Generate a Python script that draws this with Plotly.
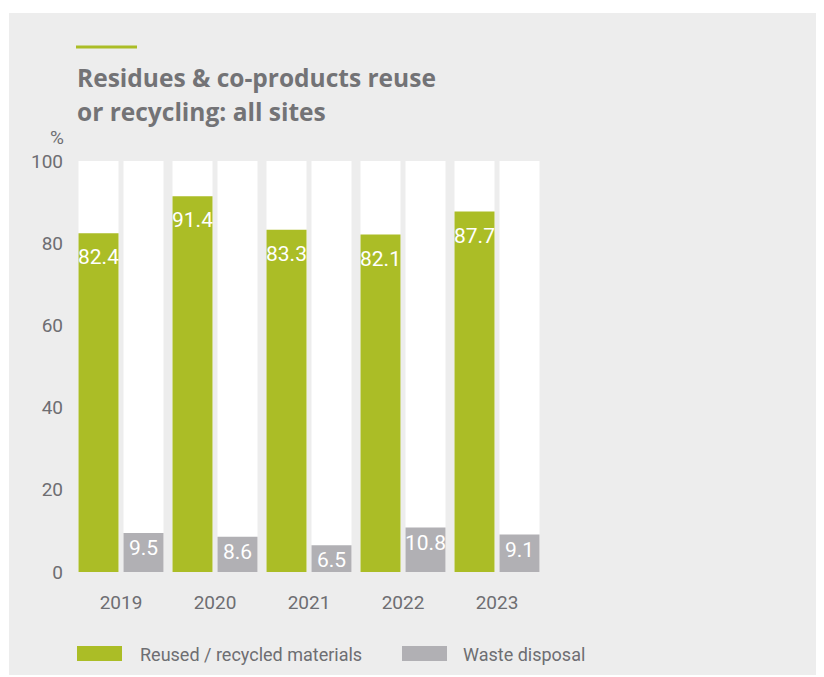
import plotly.graph_objects as go

years = ["2019", "2020", "2021", "2022", "2023"]
reused = [82.4, 91.4, 83.3, 82.1, 87.7]
waste = [9.5, 8.6, 6.5, 10.8, 9.1]
full_scale = [100, 100, 100, 100, 100]
y_ticks = [0, 20, 40, 60, 80, 100]

GREEN = "#abbd26"
GREY = "#b1b0b4"
BG = "#ededed"
TEXT = "#6e6e72"
TICKFONT = "Roboto, sans-serif"
TITLEFONT = "Open Sans, sans-serif"

OFF = 8  # page body margin
W, H = 824 - OFF, 677 - OFF
L, R, T, B = 74 - OFF, 824 - 544, 161 - OFF, 677 - 572
PW, PH = W - L - R, H - T - B


def px(x):
    return (x - OFF - L) / PW


def py(y):
    return (H - B - (y - OFF)) / PH


fig = go.Figure()
fig.add_trace(go.Bar(x=years, y=full_scale, offsetgroup="a", marker=dict(color="white", line=dict(width=0)),
                     hoverinfo="skip", showlegend=False))
fig.add_trace(go.Bar(x=years, y=reused, offsetgroup="a", name="Reused / recycled materials",
                     marker=dict(color=GREEN, line=dict(width=0)), showlegend=False))
fig.add_trace(go.Bar(x=years, y=full_scale, offsetgroup="b", marker=dict(color="white", line=dict(width=0)),
                     hoverinfo="skip", showlegend=False))
fig.add_trace(go.Bar(x=years, y=waste, offsetgroup="b", name="Waste disposal",
                     marker=dict(color=GREY, line=dict(width=0)), showlegend=False))

annotations = []
for i, v in enumerate(reused):
    annotations.append(dict(x=i, y=v, xref="x", yref="y", text=f"{v:.1f}", showarrow=False,
                            xshift=-22.5, yshift=-24, font=dict(family=TICKFONT, size=21, color="white")))
for i, v in enumerate(waste):
    annotations.append(dict(x=i, y=v, xref="x", yref="y", text=f"{v:.1f}", showarrow=False,
                            xshift=22.5, yshift=-15, font=dict(family=TICKFONT, size=21, color="white")))

# title (two lines)
annotations.append(dict(x=px(75), y=py(96), xref="paper", yref="paper", xanchor="left", yanchor="bottom",
                        showarrow=False, text="<b>Residues & co-products reuse</b>",
                        font=dict(family=TITLEFONT, size=24.5, color="#737376")))
annotations.append(dict(x=px(75), y=py(130), xref="paper", yref="paper", xanchor="left", yanchor="bottom",
                        showarrow=False, text="<b>or recycling: all sites</b>",
                        font=dict(family=TITLEFONT, size=24.5, color="#737376")))
# unit
annotations.append(dict(x=px(66), y=py(137), xref="paper", yref="paper", xanchor="right", yanchor="middle",
                        showarrow=False, text="%", font=dict(family=TICKFONT, size=19, color=TEXT)))
# legend labels
annotations.append(dict(x=px(138), y=py(654), xref="paper", yref="paper", xanchor="left", yanchor="middle",
                        showarrow=False, text="Reused / recycled materials",
                        font=dict(family=TICKFONT, size=18, color=TEXT)))
annotations.append(dict(x=px(461), y=py(654), xref="paper", yref="paper", xanchor="left", yanchor="middle",
                        showarrow=False, text="Waste disposal",
                        font=dict(family=TICKFONT, size=18, color=TEXT)))

shapes = [
    dict(type="rect", xref="paper", yref="paper", x0=px(9), x1=px(830), y0=py(675), y1=py(13),
         fillcolor=BG, line=dict(width=0), layer="below"),
    dict(type="line", xref="paper", yref="paper", x0=px(76), x1=px(137), y0=py(47), y1=py(47),
         line=dict(color=GREEN, width=3)),
    dict(type="rect", xref="paper", yref="paper", x0=px(77), x1=px(122), y0=py(661), y1=py(646),
         fillcolor=GREEN, line=dict(width=0)),
    dict(type="rect", xref="paper", yref="paper", x0=px(402), x1=px(447), y0=py(661), y1=py(646),
         fillcolor=GREY, line=dict(width=0)),
]

fig.update_layout(
    width=W, height=H,
    margin=dict(l=L, r=R, t=T, b=B, pad=0),
    paper_bgcolor="white",
    plot_bgcolor="rgba(0,0,0,0)",
    barmode="group",
    bargap=0.043,
    bargroupgap=0.111,
    showlegend=False,
    annotations=annotations,
    shapes=shapes,
    xaxis=dict(type="category", range=[-0.5, len(years) - 0.5], showgrid=False, zeroline=False,
               showline=False, ticks="", ticklabelstandoff=17,
               tickfont=dict(family=TICKFONT, size=19, color=TEXT)),
    yaxis=dict(range=[0, 100], tickvals=y_ticks, showgrid=False, zeroline=False, showline=False,
               ticks="", ticklabelstandoff=10,
               tickfont=dict(family=TICKFONT, size=19, color=TEXT)),
)

fig.write_html("out.html")
